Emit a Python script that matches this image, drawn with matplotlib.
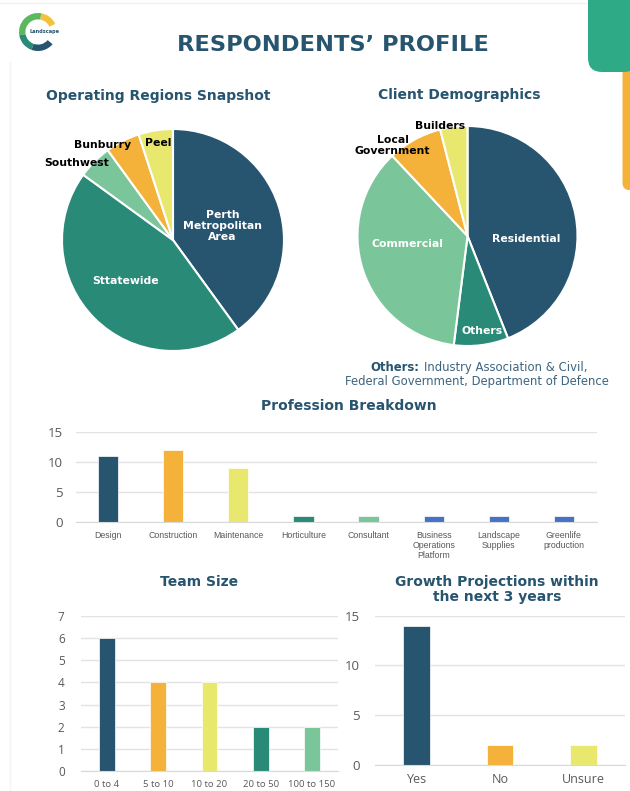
import matplotlib
matplotlib.use('Agg')
import matplotlib.pyplot as plt
from matplotlib.patches import FancyBboxPatch, Wedge, Rectangle

# ---- data ----
region_labels = ['Perth\nMetropolitan\nArea', 'Sttatewide', 'Southwest', 'Bunburry', 'Peel']
region_values = [8, 9, 1, 1, 1]

client_labels = ['Residential', 'Others', 'Commercial', 'Local\nGovernment', 'Builders']
client_values = [11, 2, 9, 2, 1]

profession_labels = ['Design', 'Construction', 'Maintenance', 'Horticulture', 'Consultant',
                     'Business\nOperations\nPlatform', 'Landscape\nSupplies', 'Greenlife\nproduction']
profession_values = [11, 12, 9, 1, 1, 1, 1, 1]

team_labels = ['0 to 4', '5 to 10', '10 to 20', '20 to 50', '100 to 150']
team_values = [6, 4, 4, 2, 2]

growth_labels = ['Yes', 'No', 'Unsure']
growth_values = [14, 2, 2]

# ---- colours ----
navy = '#27546f'
teal = '#2a8a78'
mint = '#7bc59a'
orange = '#f5b23b'
yellow = '#e8e86f'
blue = '#4472c4'
grey_txt = '#595959'
grid_c = '#e3e3e3'

W, H = 630, 791
fig = plt.figure(figsize=(W / 100, H / 100), dpi=100)
fig.patch.set_facecolor('white')

TITLE_FONT = 'DejaVu Sans'
TICK_FONT = 'Open Sans'


def rect(left, top, right, bottom):
    # pixel box (top-left origin) -> figure fraction
    return [left / W, 1 - bottom / H, (right - left) / W, (bottom - top) / H]


def ftext(x, y, s, **kw):
    fig.text(x / W, 1 - y / H, s, **kw)


# ---- page decoration ----
deco = fig.add_axes([0, 0, 1, 1])
deco.set_xlim(0, W)
deco.set_ylim(H, 0)
deco.axis('off')
deco.plot([0, 586], [3, 3], color='#f0f0f0', lw=1)
deco.plot([10, 10], [62, H], color='#f4f4f4', lw=1)
deco.add_patch(FancyBboxPatch((622.5, 60), 20, 130, boxstyle='round,pad=0,rounding_size=7',
                              fc=orange, ec='none'))
deco.add_patch(Rectangle((622.5, 60), 10, 20, fc=orange, ec='none'))
deco.add_patch(FancyBboxPatch((588, -20), 50, 92, boxstyle='round,pad=0,rounding_size=14',
                              fc='#2eab86', ec='none'))

# logo
logo = fig.add_axes(rect(18, 12, 58, 52))
logo.set_xlim(-1, 1)
logo.set_ylim(-1, 1)
logo.axis('off')
logo.add_patch(Wedge((0, 0), 0.95, 25, 80, width=0.32, fc='#f2c23a', ec='none'))
logo.add_patch(Wedge((0, 0), 0.95, 80, 190, width=0.32, fc='#5cb85c', ec='none'))
logo.add_patch(Wedge((0, 0), 0.95, 190, 250, width=0.32, fc='#2a8a78', ec='none'))
logo.add_patch(Wedge((0, 0), 0.95, 250, 320, width=0.32, fc=navy, ec='none'))
logo.text(0.3, 0.05, 'Landscape', fontsize=3.6, color=navy, fontweight='bold',
          ha='center', va='center')

# ---- main title ----
ftext(333, 45, 'RESPONDENTS\u2019 PROFILE', fontsize=16.2, fontweight='bold', color=navy,
      ha='center', va='center', family=TITLE_FONT)

# ---- pie: operating regions ----
ftext(158, 96, 'Operating Regions Snapshot', fontsize=10, fontweight='bold', color=navy,
      ha='center', va='center', family=TITLE_FONT)
cx, cy, r = 173, 240, 111
ax1 = fig.add_axes(rect(cx - r, cy - r, cx + r, cy + r))
ax1.pie(region_values, colors=[navy, teal, mint, orange, yellow], startangle=90,
        counterclock=False, wedgeprops=dict(edgecolor='white', linewidth=1.5))
ax1.set_xlim(-1, 1)
ax1.set_ylim(-1, 1)
pie1_pos = [(222.5, 225.7), (125.7, 281), (76.7, 163.3), (102.3, 145), (157.7, 143.3)]
pie1_col = ['white', 'white', 'black', 'black', 'black']
for lab, (px, py), c in zip(region_labels, pie1_pos, pie1_col):
    ax1.text((px - cx) / r, (cy - py) / r, lab, ha='center', va='center', color=c,
             fontsize=7.8, fontweight='bold', family=TITLE_FONT, linespacing=1.15, clip_on=False)

# ---- pie: client demographics ----
ftext(459, 95, 'Client Demographics', fontsize=10, fontweight='bold', color=navy,
      ha='center', va='center', family=TITLE_FONT)
cx2, cy2, r2 = 467.5, 236, 110
ax2 = fig.add_axes(rect(cx2 - r2, cy2 - r2, cx2 + r2, cy2 + r2))
ax2.pie(client_values, colors=[navy, teal, mint, orange, yellow], startangle=90,
        counterclock=False, wedgeprops=dict(edgecolor='white', linewidth=1.5))
ax2.set_xlim(-1, 1)
ax2.set_ylim(-1, 1)
pie2_pos = [(526, 239.3), (482, 330.7), (407.3, 244), (392.7, 145.5), (440, 125.7)]
pie2_col = ['white', 'white', 'white', 'black', 'black']
for lab, (px, py), c in zip(client_labels, pie2_pos, pie2_col):
    ax2.text((px - cx2) / r2, (cy2 - py) / r2, lab, ha='center', va='center', color=c,
             fontsize=7.8, fontweight='bold', family=TITLE_FONT, linespacing=1.1, clip_on=False)

ftext(370, 367.5, 'Others:', fontsize=8.4, fontweight='bold', color=navy,
      ha='left', va='center', family=TITLE_FONT)
ftext(588, 367.5, 'Industry Association & Civil,', fontsize=8.4, color='#3d6580',
      ha='right', va='center', family=TITLE_FONT)
ftext(476.5, 381.5, 'Federal Government, Department of Defence', fontsize=8.4, color='#3d6580',
      ha='center', va='center', family=TITLE_FONT)


# ---- bar charts ----
def style_bar_axes(ax, ymax, step, ylab_size, xlab_size, xlab_font, ypad):
    ax.set_ylim(0, ymax)
    ax.set_yticks(range(0, ymax + 1, step))
    ax.grid(axis='y', color=grid_c, linewidth=1)
    ax.set_axisbelow(True)
    for s in ['top', 'right', 'left']:
        ax.spines[s].set_visible(False)
    ax.spines['bottom'].set_color('#d9d9d9')
    ax.tick_params(length=0, colors=grey_txt)
    ax.tick_params(axis='y', labelsize=ylab_size, pad=ypad)
    ax.tick_params(axis='x', labelsize=xlab_size, pad=6)
    for t in ax.get_yticklabels():
        t.set_family(TICK_FONT)
    for t in ax.get_xticklabels():
        t.set_family(xlab_font)
        t.set_linespacing(1.2)


ftext(349, 406, 'Profession Breakdown', fontsize=10, fontweight='bold', color=navy,
      ha='center', va='center', family=TITLE_FONT)
ax3 = fig.add_axes(rect(75.5, 431.7, 596.5, 522.3))
ax3.bar(range(len(profession_values)), profession_values, width=0.31,
        color=[navy, orange, yellow, teal, mint, blue, blue, blue], edgecolor='white', linewidth=0.5)
ax3.set_xlim(-0.5, len(profession_values) - 0.5)
ax3.set_xticks(range(len(profession_values)))
ax3.set_xticklabels(profession_labels)
style_bar_axes(ax3, 15, 5, 9.5, 6.3, 'Liberation Sans', 9)

ftext(199, 582, 'Team Size', fontsize=10, fontweight='bold', color=navy,
      ha='center', va='center', family=TITLE_FONT)
ax4 = fig.add_axes(rect(81.3, 615.7, 337.7, 771.3))
ax4.bar(range(len(team_values)), team_values, width=0.31,
        color=[navy, orange, yellow, teal, mint], edgecolor='white', linewidth=0.5)
ax4.set_xlim(-0.5, len(team_values) - 0.5)
ax4.set_xticks(range(len(team_values)))
ax4.set_xticklabels(team_labels)
style_bar_axes(ax4, 7, 1, 8.5, 6.8, TICK_FONT, 12)

ftext(497, 589.5, 'Growth Projections within\nthe next 3 years', fontsize=10, fontweight='bold',
      color=navy, ha='center', va='center', family=TITLE_FONT, linespacing=1.05)
ax5 = fig.add_axes(rect(375, 615.7, 625, 765))
ax5.bar(range(len(growth_values)), growth_values, width=0.32,
        color=[navy, orange, yellow], edgecolor='white', linewidth=0.5)
ax5.set_xlim(-0.5, len(growth_values) - 0.5)
ax5.set_xticks(range(len(growth_values)))
ax5.set_xticklabels(growth_labels)
style_bar_axes(ax5, 15, 5, 9.5, 9, TICK_FONT, 11)

fig.savefig('out.png', dpi=100, facecolor='white')
